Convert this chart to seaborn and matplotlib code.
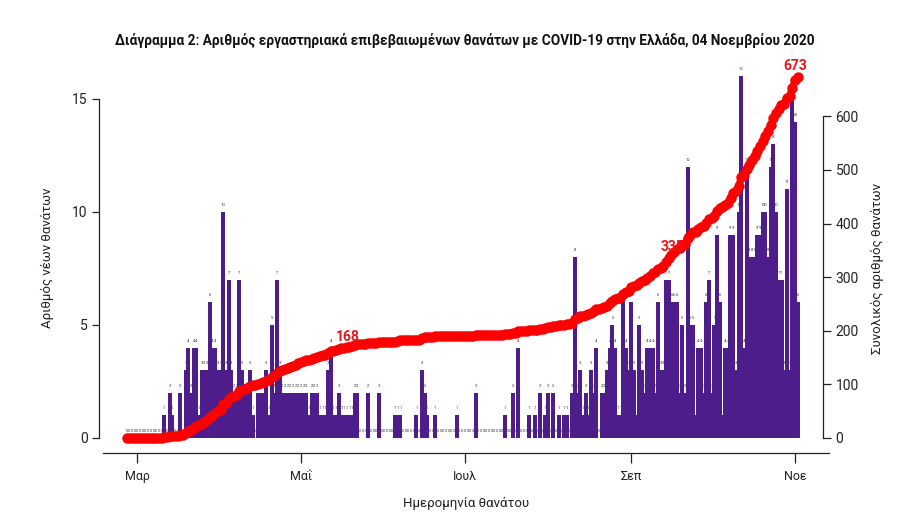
import numpy as np
import pandas as pd
import matplotlib
matplotlib.use("Agg")
import matplotlib.pyplot as plt
import seaborn as sns

# daily lab-confirmed COVID-19 deaths, by date of death (26 Feb - 2 Nov 2020)
feb_deaths = [0, 0, 0, 0]
mar_deaths = [0, 0, 0, 0, 0, 0, 0, 0, 0, 0,
              1, 0, 2, 1, 0, 0, 2, 0, 3, 4,
              2, 4, 4, 1, 3, 3, 3, 6, 4, 4, 3]
apr_deaths = [3, 10, 3, 7, 3, 2, 2, 7, 3, 2,
              2, 3, 1, 0, 2, 2, 2, 3, 1, 5,
              2, 7, 3, 2, 2, 2, 2, 2, 2, 2]
may_deaths = [2, 2, 2, 1, 2, 2, 2, 1, 1, 1,
              3, 4, 1, 1, 2, 1, 1, 1, 1, 1,
              2, 2, 0, 0, 0, 2, 0, 0, 0, 2, 0]
jun_deaths = [0, 0, 0, 0, 1, 1, 1, 0, 0, 0,
              0, 0, 1, 0, 3, 2, 1, 0, 0, 1,
              0, 0, 0, 0, 0, 0, 0, 1, 0, 0]
jul_deaths = [0, 0, 0, 0, 2, 0, 0, 0, 0, 0,
              0, 0, 0, 0, 0, 1, 0, 0, 2, 0,
              4, 0, 0, 0, 1, 0, 1, 0, 2, 0, 1]
aug_deaths = [2, 0, 2, 0, 1, 0, 1, 1, 0, 2,
              8, 2, 3, 1, 2, 1, 3, 2, 4, 0,
              2, 2, 3, 4, 5, 4, 1, 1, 6, 4, 3]
sep_deaths = [6, 3, 1, 5, 3, 2, 4, 4, 4, 2,
              6, 3, 3, 7, 7, 6, 6, 6, 2, 5,
              2, 12, 5, 5, 1, 4, 4, 2, 6, 7]
oct_deaths = [2, 5, 9, 6, 1, 4, 4, 9, 9, 3,
              10, 16, 4, 12, 8, 8, 8, 9, 9, 10,
              10, 8, 12, 13, 10, 7, 7, 3, 11, 3, 15]
nov_deaths = [14, 6]

month_ticks = ["2020-03-01", "2020-05-01", "2020-07-01", "2020-09-01", "2020-11-01"]
month_labels = ["Μαρ", "Μαΐ", "Ιουλ", "Σεπ", "Νοε"]

deaths = np.array(feb_deaths + mar_deaths + apr_deaths + may_deaths + jun_deaths
                  + jul_deaths + aug_deaths + sep_deaths + oct_deaths + nov_deaths)
dates = pd.date_range("2020-02-26", periods=len(deaths), freq="D")
start = pd.Timestamp("2020-03-01")
day = np.array((dates - start).days)
cum = np.cumsum(deaths)

sns.set_style("ticks")
plt.rcParams["font.family"] = ["Roboto", "DejaVu Sans"]

purple = "#4e1d8c"
ink = "#222222"

fig = plt.figure(figsize=(9, 5.22), dpi=100)
ax = fig.add_axes([103 / 900, 69 / 522, 726 / 900, 387 / 522])

sns.barplot(x=day, y=deaths, native_scale=True, width=1.5, color=purple,
            saturation=1, linewidth=0, errorbar=None, ax=ax)
for d, v in zip(day, deaths):
    ax.text(d, v + 0.22, str(v), fontsize=3, ha="center", va="bottom", color="#333333")

ax.set_ylim(-0.664, 16.46)
ax.set_yticks([0, 5, 10, 15])
ax.set_yticklabels(["0", "5", "10", "15"], fontsize=9)
ax.set_ylabel("")
ax.set_xlabel("")

ax2 = ax.twinx()
sns.lineplot(x=day, y=cum, ax=ax2, color="red", linewidth=5, marker="o",
             markersize=7.5, markeredgewidth=0)
ax2.set_ylim(-28, 694)
ax2.set_yticks(range(0, 700, 100))
ax2.set_yticklabels([str(t) for t in range(0, 700, 100)], rotation=90, va="center", fontsize=9)
ax2.set_ylabel("")

total = cum[-1]
for q in [0.25, 0.5]:
    i = np.where(cum <= total * q)[0][-1]
    ax2.annotate(str(cum[i]), (day[i], cum[i]), xytext=(3, 3), textcoords="offset points",
                 ha="center", va="bottom", color="#e8161b", fontsize=10, fontweight="bold")
ax2.annotate(str(total), (day[-1], total), xytext=(-2, 3), textcoords="offset points",
             ha="center", va="bottom", color="#e8161b", fontsize=10, fontweight="bold")

tick_days = [(pd.Timestamp(t) - start).days for t in month_ticks]
ax.set_xlim(-12.8, 257.7)
ax.set_xticks(tick_days)
ax.set_xticklabels(month_labels, fontsize=9)

for s in ["top", "right"]:
    ax.spines[s].set_visible(False)
ax.spines["left"].set_bounds(0, 15)
ax.spines["left"].set_position(("outward", 3))
for s in ["top", "left", "bottom"]:
    ax2.spines[s].set_visible(False)
ax2.spines["right"].set_bounds(0, 600)
ax2.spines["right"].set_position(("axes", 720 / 726))
for a in [ax, ax2]:
    for sp in a.spines.values():
        sp.set_linewidth(0.9)
        sp.set_color(ink)
ax.tick_params(axis="x", length=7, width=0.9, pad=5, colors=ink)
ax.tick_params(axis="y", length=5, width=0.9, pad=3, colors=ink)
ax2.tick_params(axis="y", length=6, width=0.9, pad=3, colors=ink)

fig.text(465 / 900, 1 - 41 / 522,
         "Διάγραμμα 2: Αριθμός εργαστηριακά επιβεβαιωμένων θανάτων με COVID-19 στην Ελλάδα, 04 Νοεμβρίου 2020",
         ha="center", va="center", fontsize=9.8, fontweight="bold", color="#111111")
fig.text(47 / 900, 1 - 258 / 522, "Αριθμός νέων θανάτων", rotation=90,
         ha="center", va="center", fontsize=9.5, color=ink)
fig.text(877 / 900, 1 - 268 / 522, "Συνολικός αριθμός θανάτων", rotation=90,
         ha="center", va="center", fontsize=9.5, color=ink)
fig.text(466 / 900, 1 - 503 / 522, "Ημερομηνία θανάτου",
         ha="center", va="center", fontsize=9.5, color=ink)

fig.savefig("out.png", dpi=100)
